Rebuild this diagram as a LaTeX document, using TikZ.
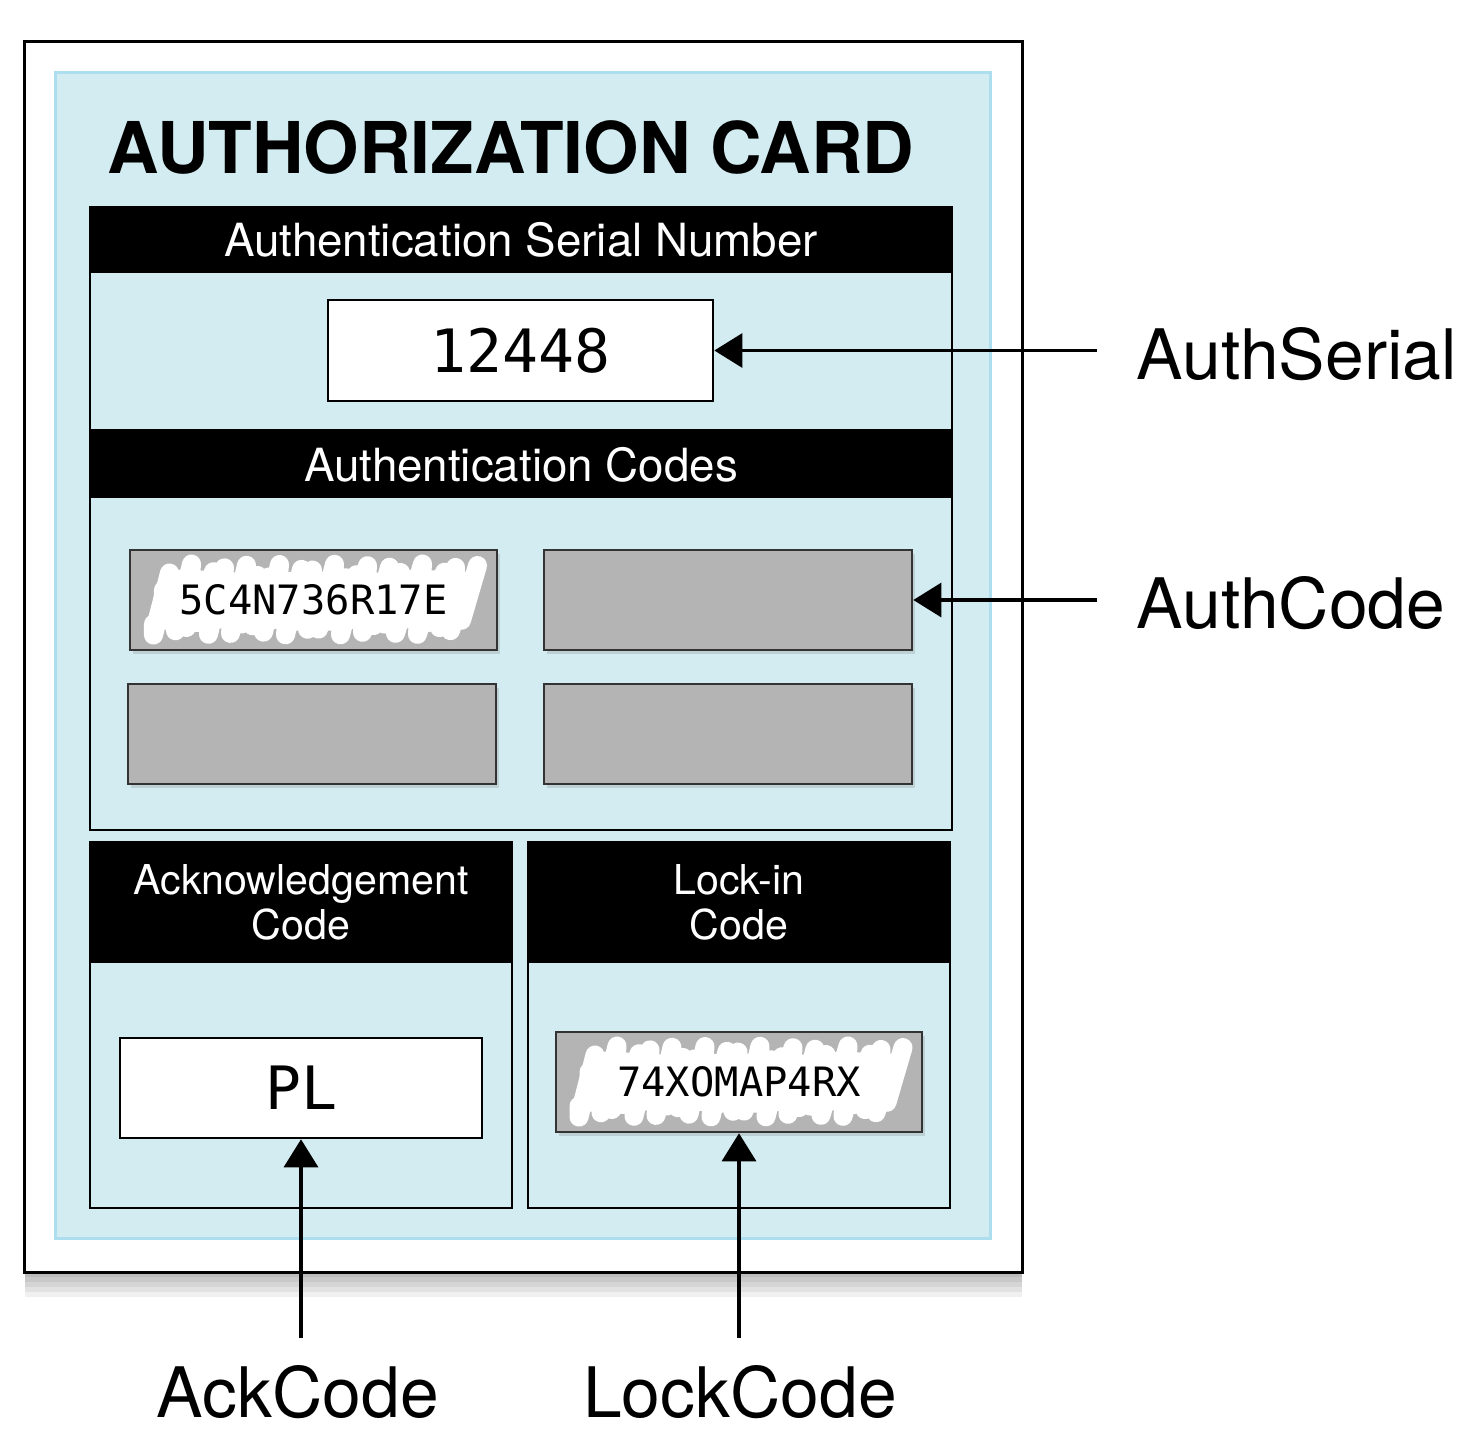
\documentclass[tikz,border=0pt]{standalone}
\usepackage{fontspec}
\setmainfont{TeX Gyre Heros}
\newfontfamily\codefont{DejaVu Sans Mono}
\usetikzlibrary{arrows.meta,shadows}

\definecolor{cardblue}{RGB}{210,236,241}
\definecolor{cardedge}{RGB}{172,222,240}
\definecolor{slotgrey}{RGB}{180,180,180}

% white hand-drawn cover behind a printed code, #1 = centre
\newcommand{\scrawl}[1]{%
  \begin{scope}[shift={#1}]
    \draw[scrawlline] (-160,24)
      \foreach \i in {0,...,28} {
        -- ({-160+11*\i},{27+8*cos(211*\i)}) -- ({-144+11*\i},{-27+9*sin(137*\i)})
      };
    \draw[scrawlline] (-150,-10)
      \foreach \i in {0,...,13} {
        -- ({-150+22*\i},{12+6*sin(97*\i)}) -- ({-138+22*\i},{-14+6*cos(151*\i)})
      };
  \end{scope}}

\begin{document}
\begin{tikzpicture}[x=0.01cm, y=-0.01cm,
    fade/.style={preaction={fill=black, opacity=0.06, transform canvas={yshift=-#1}}},
    card/.style={draw=black, line width=1pt, fill=white,
                 fade=0.5mm, fade=1mm, fade=1.5mm, fade=2mm, fade=2.5mm},
    panel/.style={draw=cardedge, line width=0.8pt, fill=cardblue},
    section/.style={draw=black, line width=0.7pt},
    header/.style={draw=black, line width=0.7pt, fill=black},
    headtext/.style={text=white, inner sep=0pt, align=center},
    valbox/.style={draw=black, line width=0.7pt, fill=white},
    slot/.style={draw=black!80, line width=0.7pt, fill=slotgrey,
                 drop shadow={shadow xshift=0.3mm, shadow yshift=-0.4mm, opacity=0.25}},
    scrawlline/.style={white, line width=0.19cm, line join=round, line cap=round},
    tag/.style={inner sep=0pt, font=\fontsize{19.8}{24}\selectfont},
    link/.style={-{Triangle[length=2.8mm, width=3.4mm]}, line width=0.9pt}
]
\useasboundingbox (0,0) rectangle (1461,1430);

% card and its blue face
\node[card, minimum width=9.97cm, minimum height=12.30cm] (card) at (523.5,657) {};
\node[panel, minimum width=9.34cm, minimum height=11.65cm] (panel) at (523,655.5) {};
\node[inner sep=0pt, font=\fontsize{20.3}{24}\selectfont\bfseries] (title) at (511,147) {AUTHORIZATION CARD};

% serial number
\node[section, minimum width=8.62cm, minimum height=2.23cm] (serialsec) at (521,318.5) {};
\node[header, minimum width=8.62cm, minimum height=0.65cm] (serialhead) at (521,239.5) {};
\node[headtext, font=\fontsize{13}{15}\selectfont] at (serialhead) {Authentication Serial Number};
\node[valbox, minimum width=3.85cm, minimum height=1.01cm] (serial) at (520.5,350.5) {};
\node[font=\fontsize{17}{20}\codefont] at (serial) {12448};

% authentication codes
\node[section, minimum width=8.62cm, minimum height=3.98cm] (codesec) at (521,631) {};
\node[header, minimum width=8.62cm, minimum height=0.65cm] (codehead) at (521,464.5) {};
\node[headtext, font=\fontsize{13}{15}\selectfont] at (codehead) {Authentication Codes};
\node[slot, minimum width=3.67cm, minimum height=1cm] (code1) at (313.5,600) {};
\node[slot, minimum width=3.68cm, minimum height=1cm] (code2) at (728,600) {};
\node[slot, minimum width=3.68cm, minimum height=1cm] (code3) at (312,734) {};
\node[slot, minimum width=3.68cm, minimum height=1cm] (code4) at (728,734) {};
\scrawl{(313.5,600)}
\node[font=\fontsize{11.5}{14}\codefont] at (code1) {5C4N736R17E};

% acknowledgement code
\node[section, minimum width=4.22cm, minimum height=3.66cm] (acksec) at (301,1025) {};
\node[header, minimum width=4.22cm, minimum height=1.20cm] (ackhead) at (301,902) {};
\node[headtext, font=\fontsize{11.7}{12.8}\selectfont] at (ackhead) {Acknowledgement\\Code};
\node[valbox, minimum width=3.62cm, minimum height=1cm] (ack) at (301,1088) {};
\node[font=\fontsize{17}{20}\codefont] at (ack) {PL};

% lock-in code
\node[section, minimum width=4.22cm, minimum height=3.66cm] (locksec) at (739,1025) {};
\node[header, minimum width=4.22cm, minimum height=1.20cm] (lockhead) at (739,902) {};
\node[headtext, font=\fontsize{11.7}{12.8}\selectfont] at (lockhead) {Lock-in\\Code};
\node[slot, minimum width=3.66cm, minimum height=1cm] (lock) at (739,1082) {};
\scrawl{(739,1082)}
\node[font=\fontsize{11.5}{14}\codefont] at (lock) {74XOMAP4RX};

% field names
\node[tag, anchor=west] (authserial) at (1136,354) {AuthSerial};
\node[tag, anchor=west] (authcode) at (1136,603) {AuthCode};
\node[tag] (ackcode) at (298,1392) {AckCode};
\node[tag] (lockcode) at (740,1392) {LockCode};

\coordinate (tailSerial) at (1097,350.5);
\coordinate (tailCode) at (1097,600);
\coordinate (tailAck) at (301,1338);
\coordinate (tailLock) at (739,1338);

\draw[link] (tailSerial) -- (serial.east);
\draw[link] (tailCode) -- (code2.east);
\draw[link] (tailAck) -- (ack.south);
\draw[link] (tailLock) -- (lock.south);
\end{tikzpicture}
\end{document}
